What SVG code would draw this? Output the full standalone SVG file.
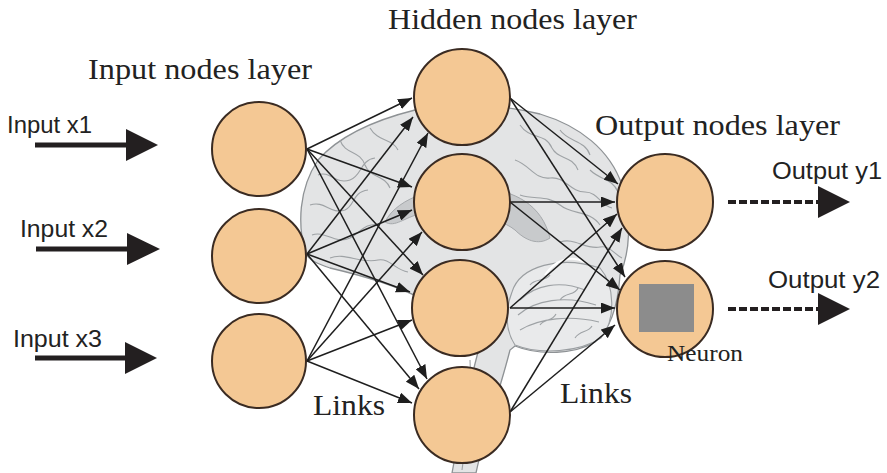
<svg xmlns="http://www.w3.org/2000/svg" width="887" height="473" viewBox="0 0 887 473">
<defs>
<marker id="ah" markerUnits="userSpaceOnUse" markerWidth="14" markerHeight="11" refX="14" refY="5.5" orient="auto"><path d="M0,0 L14,5.5 L0,11 Z" fill="#1e1e1e"/></marker>
</defs>
<style>
.node{fill:#F4C894;stroke:#3a2b22;stroke-width:2}
.link{stroke:#1e1e1e;stroke-width:1.5;fill:none;marker-end:url(#ah)}
.title{font-family:"Liberation Serif","Times New Roman",serif;font-size:29px;fill:#222}
.lbl{font-family:"Liberation Sans",Arial,sans-serif;font-size:23px;fill:#222}
.sul{fill:none;stroke:#9ea2a5;stroke-width:1.1}
.thick{stroke:#231f20;stroke-width:5;fill:none}
.dash{stroke:#231f20;stroke-width:4;fill:none;stroke-dasharray:8 3}
.head{fill:#231f20}
</style>
<rect width="887" height="473" fill="#ffffff"/>
<g id="brain">
<path d="M305,252 C298,225 298,190 318,160 C340,135 375,120 415,110 C455,102 500,104 540,114 C580,126 610,150 622,185 C632,220 630,252 620,275 C618,305 610,330 595,342 C575,354 540,356 515,346 L510,350 C500,390 485,430 476,473 L452,473 C460,430 468,390 478,352 C462,330 445,312 420,298 C395,285 360,275 330,268 C318,264 308,260 305,252 Z" fill="#e3e4e5" stroke="#8e9295" stroke-width="1.3"/>
<path d="M385,222 C398,196 440,185 480,188 C515,190 542,205 550,238 C538,246 525,240 515,230 C495,214 450,210 420,214 C405,217 395,228 385,222 Z" fill="#c8cacc" stroke="#a6a9ac" stroke-width="1"/>
<path d="M512,292 C520,266 560,255 600,268 C615,285 616,320 601,338 C580,352 540,355 515,345 C505,330 505,310 512,292 Z" fill="#e9eaeb" stroke="#9a9ea1" stroke-width="1.1"/>
<path class="sul" d="M520,300 C535,285 560,280 585,290 M518,315 C535,300 565,295 596,305 M520,330 C540,318 570,315 599,322 M530,285 C535,278 545,282 550,275 M560,300 C565,292 575,296 578,288 M540,325 C545,318 552,322 556,314 M575,338 C580,330 588,333 592,326"/>
<path d="M545,275 C555,260 570,255 585,262" fill="none" stroke="#ffffff" stroke-width="2"/>
<path class="sul" d="M318,175 C330,170 335,185 350,180 C362,176 360,160 375,158 M310,205 C325,200 330,215 345,210 C355,206 352,192 368,190 M312,235 C325,230 335,245 350,238 C360,233 365,222 380,225 M340,140 C345,155 360,150 365,165 C370,178 385,175 390,188 M370,128 C378,142 392,138 398,150 M330,258 C345,252 360,264 378,260 C390,258 395,270 408,272 M520,125 C530,140 545,132 552,148 C558,160 572,155 578,170 M560,130 C568,142 585,140 590,155 M515,160 C530,165 535,180 550,178 C565,176 570,192 585,192 C598,192 600,205 612,208 M520,195 C535,200 548,195 560,205 C572,215 590,210 600,225 M590,170 C600,180 612,178 618,192 M560,242 C575,237 585,250 600,247 C610,245 615,255 622,258 M470,360 C472,400 466,440 462,470"/>
</g>
<g id="connectors">
<path class="link" d="M307,149 L412,98"/>
<path class="link" d="M307,149 L412,187"/>
<path class="link" d="M307,149 L423,275"/>
<path class="link" d="M307,149 L427,379"/>
<path class="link" d="M307,254 L413,117"/>
<path class="link" d="M307,254 L412,210"/>
<path class="link" d="M307,254 L410,292"/>
<path class="link" d="M307,254 L419,389"/>
<path class="link" d="M307,361 L428,133"/>
<path class="link" d="M307,361 L422,232"/>
<path class="link" d="M307,361 L412,320"/>
<path class="link" d="M307,361 L412,403"/>
<path class="link" d="M510,98 L618,184"/>
<path class="link" d="M510,98 L625,277"/>
<path class="link" d="M510,202 L615,202"/>
<path class="link" d="M510,202 L620,290"/>
<path class="link" d="M510,308 L617,214"/>
<path class="link" d="M510,308 L615,308"/>
<path class="link" d="M510,412 L622,228"/>
<path class="link" d="M510,412 L615,325"/>
<path class="thick" d="M35,145 L128,145"/><path class="head" d="M126,129 L158,145 L126,161 Z"/>
<path class="thick" d="M36,249 L129,249"/><path class="head" d="M127,233 L160,249 L127,265 Z"/>
<path class="thick" d="M35,358 L127,358"/><path class="head" d="M125,342 L157,358 L125,374 Z"/>
<path class="dash" d="M728,202 L820,202"/><path class="head" d="M818,186 L850,202 L818,218 Z"/>
<path class="dash" d="M728,309 L820,309"/><path class="head" d="M818,293 L850,309 L818,325 Z"/>
</g>
<g id="input1"><circle class="node" cx="259" cy="149" r="47"/></g>
<g id="input2"><circle class="node" cx="259" cy="256" r="47"/></g>
<g id="input3"><circle class="node" cx="259" cy="361" r="47"/></g>
<g id="hidden1"><circle class="node" cx="462" cy="97" r="48"/></g>
<g id="hidden2"><circle class="node" cx="462" cy="202" r="48"/></g>
<g id="hidden3"><circle class="node" cx="460" cy="308" r="48"/></g>
<g id="hidden4"><circle class="node" cx="462" cy="415" r="48"/></g>
<g id="output1"><circle class="node" cx="665" cy="202" r="48"/></g>
<g id="output2"><circle class="node" cx="665" cy="309" r="48"/><rect x="639" y="284" width="55" height="48" fill="#8c8c8c"/><text x="667" y="361" font-family="Liberation Serif, Times New Roman, serif" font-size="23" fill="#222" textLength="76" lengthAdjust="spacingAndGlyphs">Neuron</text></g>
<g id="labels">
<text class="title" x="88" y="79" textLength="224" lengthAdjust="spacingAndGlyphs">Input nodes layer</text>
<text class="title" x="388" y="29" textLength="249" lengthAdjust="spacingAndGlyphs">Hidden nodes layer</text>
<text class="title" x="595" y="135" textLength="245" lengthAdjust="spacingAndGlyphs">Output nodes layer</text>
<text class="title" x="313" y="415" textLength="72" lengthAdjust="spacingAndGlyphs">Links</text>
<text class="title" x="560" y="403" textLength="72" lengthAdjust="spacingAndGlyphs">Links</text>
<text class="lbl" x="7" y="133" textLength="85" lengthAdjust="spacingAndGlyphs">Input x1</text>
<text class="lbl" x="20" y="237" textLength="88" lengthAdjust="spacingAndGlyphs">Input x2</text>
<text class="lbl" x="13" y="347" textLength="89" lengthAdjust="spacingAndGlyphs">Input x3</text>
<text class="lbl" x="772" y="179" textLength="110" lengthAdjust="spacingAndGlyphs">Output y1</text>
<text class="lbl" x="768" y="288" textLength="112" lengthAdjust="spacingAndGlyphs">Output y2</text>
</g>
</svg>
